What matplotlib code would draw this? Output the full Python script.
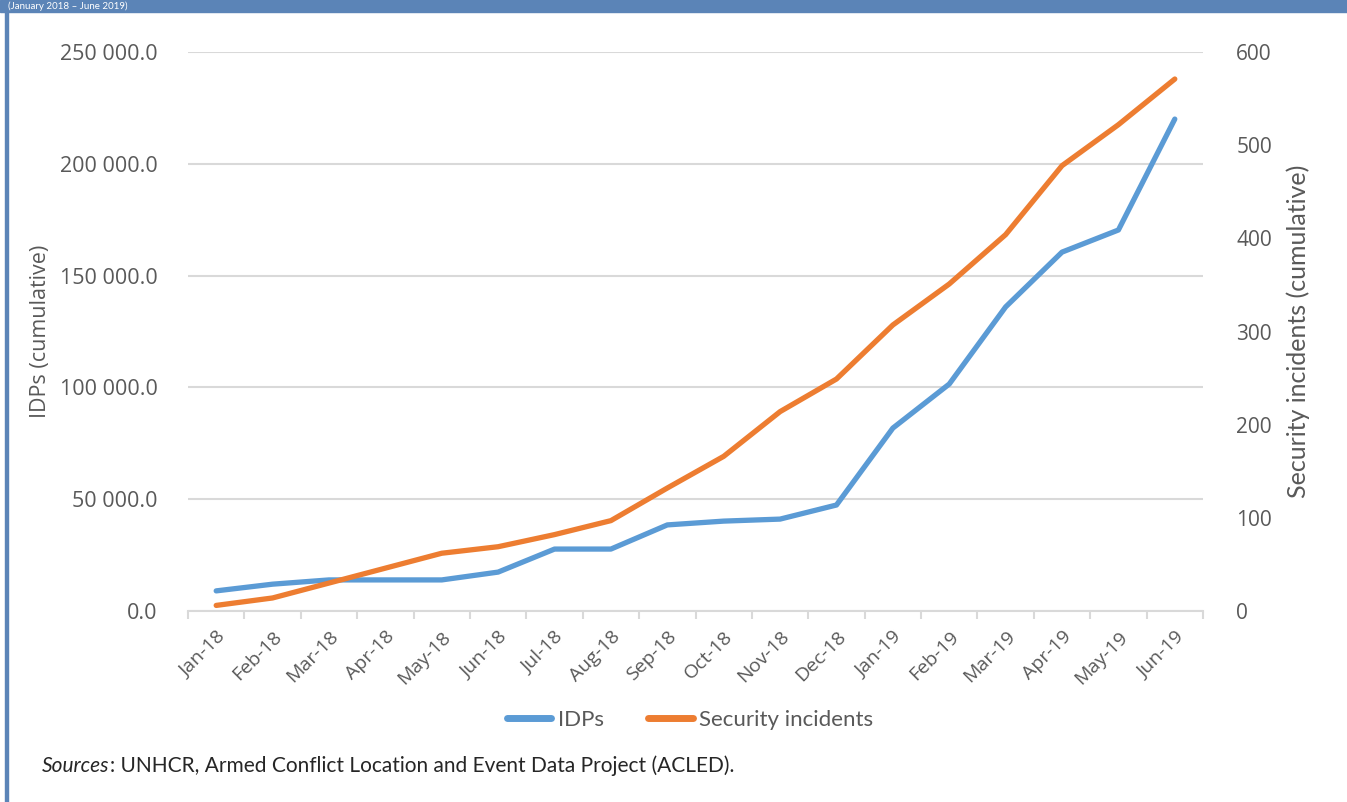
import matplotlib.pyplot as plt
from matplotlib.ticker import FuncFormatter, MultipleLocator
from matplotlib.lines import Line2D

# monthly cumulative values
months = ['Jan-18', 'Feb-18', 'Mar-18', 'Apr-18', 'May-18', 'Jun-18',
          'Jul-18', 'Aug-18', 'Sep-18', 'Oct-18', 'Nov-18', 'Dec-18',
          'Jan-19', 'Feb-19', 'Mar-19', 'Apr-19', 'May-19', 'Jun-19']
idps = [9000, 12000, 13900, 13900, 13900, 17400,
        27700, 27700, 38500, 40200, 41100, 47400,
        81800, 101500, 136000, 160500, 170400, 220000]
incidents = [6, 14, 30, 46, 62, 69,
             82, 97, 132, 166, 214, 249,
             307, 351, 404, 478, 522, 571]

BLUE = '#5B9BD5'
ORANGE = '#ED7D31'
GRID = '#D9D9D9'
TXT = '#595959'
FRAME = '#5B84B7'
LATO = ['Lato', 'DejaVu Sans']

plt.rcParams['font.family'] = ['Open Sans', 'DejaVu Sans']

fig = plt.figure(figsize=(13.47, 8.02), dpi=100)

# frame: blue band on top, thin blue rule on the left
fig.patches.append(plt.Rectangle((0, 1 - 12 / 802), 1, 12 / 802, transform=fig.transFigure,
                                 color=FRAME, zorder=0))
fig.patches.append(plt.Rectangle((5 / 1347, 0), 2.5 / 1347, 1, transform=fig.transFigure,
                                 color=FRAME, zorder=0))
fig.text(8 / 1347, 1 - 6 / 802, '(January 2018 \u2013 June 2019)', color='white',
         fontsize=7, va='center', ha='left', family=LATO)

ax = fig.add_axes([188 / 1347, 1 - 611 / 802, 1015 / 1347, 559 / 802])
ax2 = ax.twinx()

x = list(range(len(months)))
ax.plot(x, idps, color=BLUE, lw=3.8, solid_capstyle='round', solid_joinstyle='round')
ax2.plot(x, incidents, color=ORANGE, lw=3.8, solid_capstyle='round', solid_joinstyle='round')

ax.set_xlim(-0.5, len(months) - 0.5)
ax.set_ylim(0, 250000)
ax2.set_ylim(0, 600)

ax.yaxis.set_major_locator(MultipleLocator(50000))
ax.yaxis.set_major_formatter(FuncFormatter(lambda v, p: f'{v:,.1f}'.replace(',', ' ')))
ax2.yaxis.set_major_locator(MultipleLocator(100))

ax.set_xticks(x)
ax.set_xticklabels(months, rotation=45, ha='right', rotation_mode='anchor')
ax.set_xticks([i - 0.5 for i in range(len(months) + 1)], minor=True)
ax.tick_params(axis='x', which='major', length=0, pad=12, labelsize=14, labelcolor=TXT)
ax.tick_params(axis='x', which='minor', length=6, width=1.5, color=GRID)
ax.tick_params(axis='y', length=0, pad=22, labelsize=15.5, labelcolor=TXT)
ax2.tick_params(axis='y', length=0, pad=24, labelsize=15, labelcolor=TXT)

ax.grid(axis='y', color=GRID, lw=1.5)
ax.set_axisbelow(True)
for s in ['top', 'left', 'right']:
    ax.spines[s].set_visible(False)
    ax2.spines[s].set_visible(False)
ax.spines['bottom'].set_color(GRID)
ax.spines['bottom'].set_linewidth(1.5)
ax2.spines['bottom'].set_visible(False)

ax.set_ylabel('IDPs (cumulative)', fontsize=15.5, color=TXT, labelpad=6)
ax2.set_ylabel('Security incidents (cumulative)', fontsize=18, color=TXT, labelpad=10,
               family=LATO)

handles = [Line2D([], [], color=BLUE, lw=5, solid_capstyle='round'),
           Line2D([], [], color=ORANGE, lw=5, solid_capstyle='round')]
fig.legend(handles, ['IDPs', 'Security incidents'], loc='center',
           bbox_to_anchor=(690 / 1347, 1 - 720 / 802), ncol=2, frameon=False,
           handlelength=2.0, handletextpad=0.3, columnspacing=2.0,
           prop={'family': LATO, 'size': 16}, labelcolor=TXT)

# source note: italic "Sources" followed by the rest in roman
src = fig.text(42 / 1347, 1 - 772 / 802, 'Sources', fontsize=15, style='italic',
               color='#262626', va='baseline', ha='left', family=LATO)
fig.text(0, 0, '')
fig.texts.pop()
plt.annotate(': UNHCR, Armed Conflict Location and Event Data Project (ACLED).',
             xy=(1, 0), xycoords=src, va='bottom', ha='left',
             fontsize=15, color='#262626', family=LATO, annotation_clip=False)

fig.savefig('out.png', dpi=100)
